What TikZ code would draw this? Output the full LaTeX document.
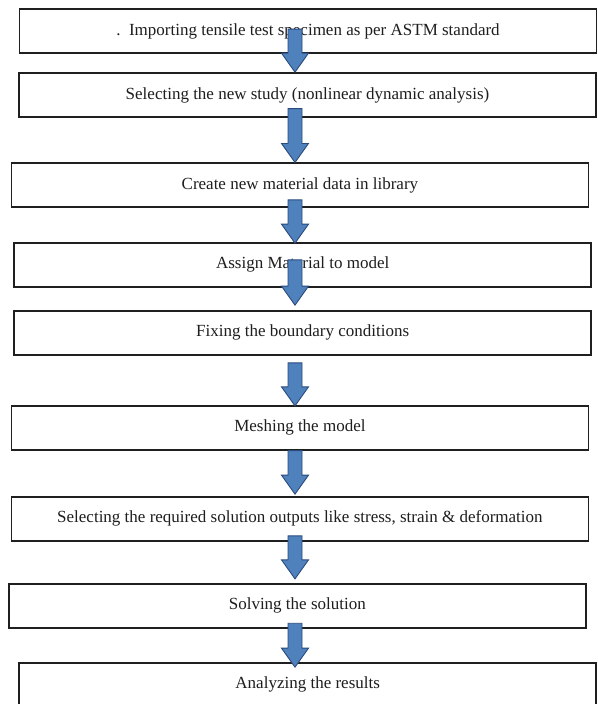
\documentclass[tikz,border=0pt]{standalone}
\usepackage{fontspec}
\setmainfont{Liberation Serif}
\usepackage{tikz}
\usetikzlibrary{calc}
\definecolor{flowblue}{HTML}{4F81BD}
\definecolor{flowedge}{HTML}{2A4B7C}
\definecolor{boxline}{HTML}{1F1F1F}
\definecolor{boxtext}{HTML}{1E1E1E}
\tikzset{
  stepbox/.style={
    rectangle, draw=boxline, fill=white, line width=1.7pt,
    minimum width=577pt, minimum height=44pt,
    font=\fontsize{17}{20}\selectfont, text=boxtext, text centered
  },
  blockarrow/.style={
    fill=flowblue, draw=flowedge, line width=0.9pt, line join=miter,
    to path={let \p1=(\tikztostart), \p2=(\tikztotarget) in
      -- (\x1+7pt,\y1) -- (\x1+7pt,\y2+19pt) -- (\x1+13.5pt,\y2+19pt)
      -- (\x1,\y2) -- (\x1-13.5pt,\y2+19pt) -- (\x1-7pt,\y2+19pt)
      -- (\x1-7pt,\y1) -- cycle}
  },
}
\begin{document}
\begin{tikzpicture}[x=1pt, y=-1pt]
\useasboundingbox (0,0) rectangle (597,704);
\clip (0,0) rectangle (597,704);

% Process steps
\node[stepbox] (import)   at (308,31)      {.\ \ Importing tensile test specimen as per ASTM standard};
\node[stepbox] (study)    at (307.5,95)    {Selecting the new study (nonlinear dynamic analysis)};
\node[stepbox] (material) at (299.9,185.3) {Create new material data in library};
\node[stepbox] (assign)   at (302.7,264.7) {Assign Material to model};
\node[stepbox] (boundary) at (302.7,332.7) {Fixing the boundary conditions};
\node[stepbox] (mesh)     at (299.9,427.7) {Meshing the model};
\node[stepbox] (outputs)  at (299.9,518.7) {Selecting the required solution outputs like stress, strain \& deformation};
\node[stepbox] (solve)    at (297.3,605.7) {Solving the solution};
\node[stepbox] (results)  at (307.7,684.7) {Analyzing the results};

% Arrows (all on one vertical line)
\coordinate (axis) at (295,0);
\foreach \a/\b/\s/\e in {import/study/-24.7/0, study/material/-9.3/0,
    material/assign/-8.3/1.3, assign/boundary/-27.7/-4.7,
    boundary/mesh/7.3/1, mesh/outputs/0/-1.7,
    outputs/solve/-5.7/-4, solve/results/-5.3/5.3}
  \draw[blockarrow] ($(\a.south -| axis)+(0,\s)$) to ($(\b.north -| axis)+(0,\e)$);

\end{tikzpicture}
\end{document}
